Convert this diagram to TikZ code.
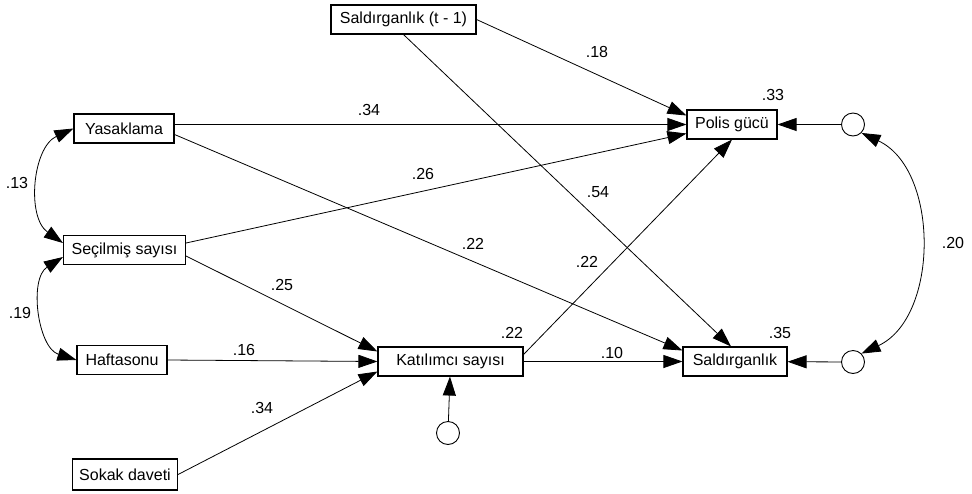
\documentclass[tikz,border=0pt]{standalone}
\usepackage{fontspec}
\setmainfont{Liberation Sans}
\usetikzlibrary{arrows.meta}
\begin{document}
\begin{tikzpicture}[x=1pt, y=1pt, >={Triangle[length=19pt, width=13pt]},
	every node/.style={font=\fontsize{16}{18}\selectfont},
	var/.style={draw, line width=1.1pt, fill=white, inner sep=0pt, minimum height=29pt},
	err/.style={draw, line width=0.9pt, circle, inner sep=0pt, minimum size=23pt},
	effect/.style={->, line width=0.8pt},
	cov/.style={<->, line width=0.8pt}]
	\useasboundingbox (0,0) rectangle (972,-493);

	\node [var, minimum width=145pt] (sal-prev) at (403.5,-19.5) {Saldırganlık (t - 1)};
	\node [var, minimum width=100pt] (yasak) at (124,-128.5) {Yasaklama};
	\node [var, minimum width=90pt] (polis) at (732,-124.5) {Polis gücü};
	\node [var, minimum width=122pt] (secil) at (124.5,-250) {Seçilmiş sayısı};
	\node [var, minimum width=90pt] (hafta) at (122,-360) {Haftasonu};
	\node [var, minimum width=145pt] (katil) at (450.5,-361.5) {Katılımcı sayısı};
	\node [var, minimum width=104pt] (sald) at (735,-361.5) {Saldırganlık};
	\node [var, minimum width=105pt, minimum height=31pt] (sokak) at (125,-474.5) {Sokak daveti};

	\node [err] (e-polis) at (853,-124.5) {};
	\node [err] (e-sald) at (853,-362) {};
	\node [err] (e-katil) at (448,-433) {};

	\draw [effect] (sal-prev.east) -- ([yshift=9pt]polis.west);
	\draw [effect] (sal-prev.south) -- ([xshift=-4pt]sald.north);
	\draw [effect] (yasak.east |- polis.west) -- (polis.west);
	\draw [effect] ([yshift=-6pt]yasak.east) -- ([yshift=11pt]sald.west);
	\draw [effect] ([yshift=7pt]secil.east) -- ([yshift=-9pt]polis.west);
	\draw [effect] ([yshift=-6pt]secil.east) -- ([yshift=10pt]katil.west);
	\draw [effect] (hafta.east) -- (katil.west);
	\draw [effect] (sokak.east) -- ([yshift=-10pt]katil.west);
	\draw [effect] ([yshift=7pt]katil.east) -- (polis.south);
	\draw [effect] (katil.east) -- (katil.east -| sald.west);
	\draw [effect] (e-polis) -- (polis);
	\draw [effect] (e-sald) -- (sald);
	\draw [effect] (e-katil) -- (katil);

	\draw [cov] (yasak.west) to [bend right=60] ([yshift=7pt]secil.west);
	\draw [cov] ([yshift=-7pt]secil.west) to [bend right=65] (hafta.west);
	\draw [cov] (e-polis.south east) to [bend left=65] (e-sald.north east);

	\foreach \id/\val/\px/\py in {b-sp/.18/597/52, b-yp/.34/369/110, b-sep/.26/423/174,
		b-ss/.54/598/192, b-yd/.22/473/244, b-kp/.22/587/262, b-sk/.25/282/285,
		b-hk/.16/244/350, b-ok/.34/262/408, b-kd/.10/612/353,
		r-polis/.33/773/95, r-sald/.35/780/333, r-katil/.22/512/333,
		c-ys/.13/17/183, c-sh/.19/20/313, c-e/.20/953/243}
	\node (\id) at (\px,-\py) {\val};
\end{tikzpicture}
\end{document}
